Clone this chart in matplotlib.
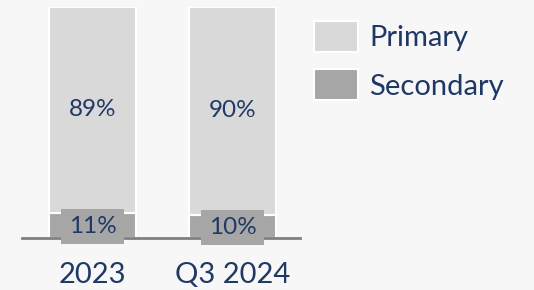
import numpy as np
import matplotlib.pyplot as plt

categories = ["2023", "Q3 2024"]
secondary = [11, 10]
primary = [89, 90]

navy = "#1f3864"
c_primary = "#d9d9d9"
c_secondary = "#a6a6a6"
bg = "#f7f7f7"

plt.rcParams['font.family'] = ['Lato', 'DejaVu Sans']

fig = plt.figure(figsize=(5.34, 2.90), dpi=100, facecolor=bg)
ax = fig.add_axes([22/534, 1 - 238/290, 278/534, 231/290])
ax.set_facecolor(bg)

x = np.arange(len(categories))
w = 0.62
b1 = ax.bar(x, secondary, w, color=c_secondary, edgecolor="white", linewidth=1.5, label="Secondary")
b2 = ax.bar(x, primary, w, bottom=secondary, color=c_primary, edgecolor="white", linewidth=1.5, label="Primary")

for i in range(len(x)):
    ax.text(x[i], secondary[i] / 2 - 0.5, f"{secondary[i]}%", ha="center", va="center",
            fontsize=17.5, color=navy,
            bbox=dict(boxstyle="square,pad=0.3", fc=c_secondary, ec="none"))
    ax.text(x[i], secondary[i] + primary[i] / 2, f"{primary[i]}%", ha="center", va="center",
            fontsize=17.5, color=navy)

ax.set_xlim(-0.504, 1.482)
ax.set_ylim(0, 100)
for s in ["top", "right", "left"]:
    ax.spines[s].set_visible(False)
ax.spines["bottom"].set_color("#7f7f7f")
ax.spines["bottom"].set_linewidth(2)
ax.set_yticks([])
ax.set_xticks(x)
ax.set_xticklabels(categories, fontsize=21, color=navy)
ax.tick_params(axis="x", length=0, pad=17)

fig.legend([b2, b1], ["Primary", "Secondary"], loc="upper left",
           bbox_to_anchor=(314/534, 1 - 21/290), frameon=False, fontsize=21,
           labelcolor=navy, handlelength=1.5, handleheight=1.25,
           handletextpad=0.4, labelspacing=0.6, borderpad=0, borderaxespad=0)

fig.savefig("out.png", dpi=100, facecolor=bg)
